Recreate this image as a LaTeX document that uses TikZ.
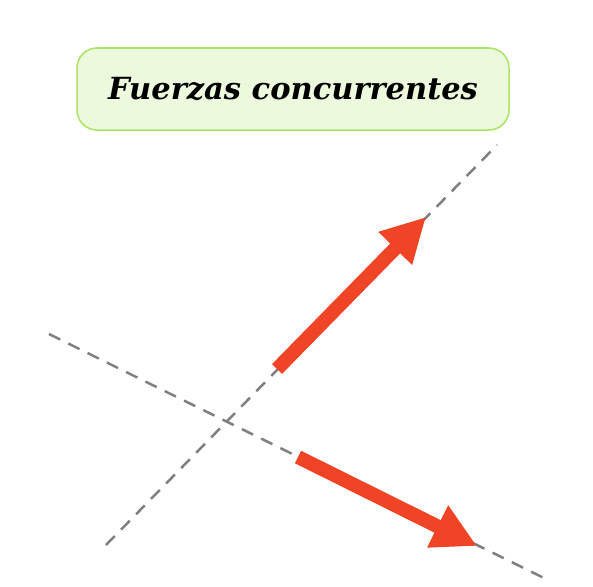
\documentclass[tikz,border=0pt]{standalone}
\usepackage{fontspec}
\newfontfamily\titlefont{DejaVu Serif}
\usetikzlibrary{arrows.meta,positioning,calc}
\definecolor{boxfill}{RGB}{236,249,221}
\definecolor{boxline}{RGB}{170,228,100}
\definecolor{forcered}{RGB}{240,68,38}
\definecolor{axisgray}{RGB}{128,128,128}
\tikzset{
titlebox/.style={draw=boxline, fill=boxfill, line width=1.5pt,
                 rounded corners=20pt, minimum width=432pt, minimum height=82pt,
                 inner sep=0pt, font=\titlefont\bfseries\itshape\fontsize{30.5}{34}\selectfont},
actionline/.style={draw=axisgray, line width=2.5pt, dash pattern=on 12.5pt off 9pt},
force/.style={draw=forcered, line width=14pt,
              -{Triangle[length=44pt, width=44pt]}}
}
\begin{document}
\begin{tikzpicture}[x=1pt,y=-1pt]
  \useasboundingbox (0,0) rectangle (593,586);
  \node[titlebox] (title) at (293,89) {Fuerzas concurrentes};

  % lineas de accion
  \coordinate (l1a) at (106,545);
  \coordinate (l1b) at (497,145);
  \coordinate (l2a) at (49,334);
  \coordinate (l2b) at (550,581);
  \draw[actionline] (l1a) -- (l1b);
  \draw[actionline] (l2a) -- (l2b);

  % fuerzas
  \coordinate (f1tail) at (277,369);
  \coordinate (f1tip) at (426,217);
  \coordinate (f2tail) at (298,457);
  \coordinate (f2tip) at (477,546);
  \draw[force] (f1tail) -- (f1tip);
  \draw[force] (f2tail) -- (f2tip);
\end{tikzpicture}
\end{document}
